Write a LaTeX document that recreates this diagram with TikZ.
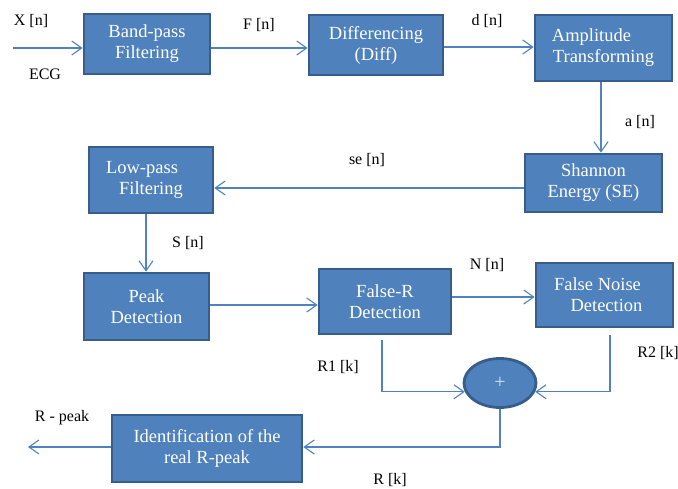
\documentclass[tikz,border=0pt]{standalone}
\usepackage{fontspec}
\setmainfont{Liberation Serif}
\usetikzlibrary{arrows.meta,shapes.geometric}
\definecolor{boxfill}{HTML}{4F81BD}
\definecolor{boxline}{HTML}{385D8A}
\definecolor{arrcol}{HTML}{5082C0}
\definecolor{plusc}{HTML}{D8E2F0}
\tikzset{
  blk/.style={draw=boxline, line width=2.6pt, fill=boxfill, text=white, align=center,
    inner sep=0pt, font=\fontsize{18.5}{21}\selectfont},
  sumnode/.style={ellipse, draw=boxline, line width=2.8pt, fill=boxfill, text=plusc,
    inner sep=0pt, font=\fontsize{20}{21}\selectfont},
  arr/.style={draw=arrcol, line width=1.1pt, -{Straight Barb[length=10pt,width=14pt,line width=1.1pt]}},
  lbl/.style={inner sep=0pt, font=\fontsize{16}{19}\selectfont}
}
\begin{document}
\begin{tikzpicture}[x=1pt,y=-1pt]
\useasboundingbox (0,0) rectangle (678,489);
% blocks
\node[blk, minimum width=126pt, minimum height=60pt] (bp) at (147,44) {Band-pass\\Filtering};
\node[blk, minimum width=134pt, minimum height=60pt] (diff) at (376,45) {Differencing\\(Diff)};
\node[blk, minimum width=137pt, minimum height=66pt] (amp) at (603.5,48) {Amplitude\hspace*{24pt}\\Transforming};
\node[blk, minimum width=137pt, minimum height=58pt] (se) at (593.5,183) {Shannon\\Energy (SE)};
\node[blk, minimum width=124pt, minimum height=66pt] (lp) at (151,180) {Low-pass\hspace*{18pt}\\Filtering};
\node[blk, minimum width=125pt, minimum height=67pt] (pk) at (146.5,306.5) {Peak\\Detection};
\node[blk, minimum width=132pt, minimum height=65pt] (fr) at (385,301.5) {False-R\\Detection};
\node[blk, minimum width=137pt, minimum height=64pt] (fn) at (604.5,295) {False Noise\hspace*{14pt}\\\hspace*{4pt}Detection};
\node[blk, minimum width=190pt, minimum height=67pt] (id) at (207,448.5) {Identification of the\\real R-peak};
\node[sumnode, minimum width=72pt, minimum height=49pt] (e) at (500,383) {+};
% free ends
\coordinate (in) at (13,48);
\coordinate (out) at (28,447);
\coordinate (r1) at (382,340);
\coordinate (r2) at (610,335);
% connectors
\draw[arr] (in) -- (bp.west |- in);
\draw[arr] (bp.east |- 0,48) -- (diff.west |- 0,48);
\draw[arr] (diff.east |- 0,47) -- (amp.west |- 0,47);
\draw[arr] (amp.south -| 601,0) -- (se.north -| 601,0);
\draw[arr] (se.west |- 0,188) -- (lp.east |- 0,188);
\draw[arr] (lp.south -| 146,0) -- (pk.north -| 146,0);
\draw[arr] (pk.east |- 0,305) -- (fr.west |- 0,305);
\draw[arr] (fr.east |- 0,297) -- (fn.west |- 0,297);
\draw[arr] (r1) |- (e.194);
\draw[arr] (r2) |- (e.346);
\draw[arr] (e.south) |- (id.east |- 0,447);
\draw[arr] (id.west |- out) -- (out);
% labels
\node[lbl] (lx) at (31,21) {X [n]};
\node[lbl] (lecg) at (45,74) {ECG};
\node[lbl] (lf) at (259,25) {F [n]};
\node[lbl] (ld) at (487,21) {d [n]};
\node[lbl] (la) at (640,122) {a [n]};
\node[lbl] (lse) at (367,160) {se [n]};
\node[lbl] (ls) at (188,243) {S [n]};
\node[lbl] (ln) at (487,265) {N [n]};
\node[lbl] (lr1) at (338,367) {R1 [k]};
\node[lbl] (lr2) at (658,353) {R2 [k]};
\node[lbl] (lr) at (390,480) {R [k]};
\node[lbl] (lrp) at (62,418) {R - peak};
\end{tikzpicture}
\end{document}
